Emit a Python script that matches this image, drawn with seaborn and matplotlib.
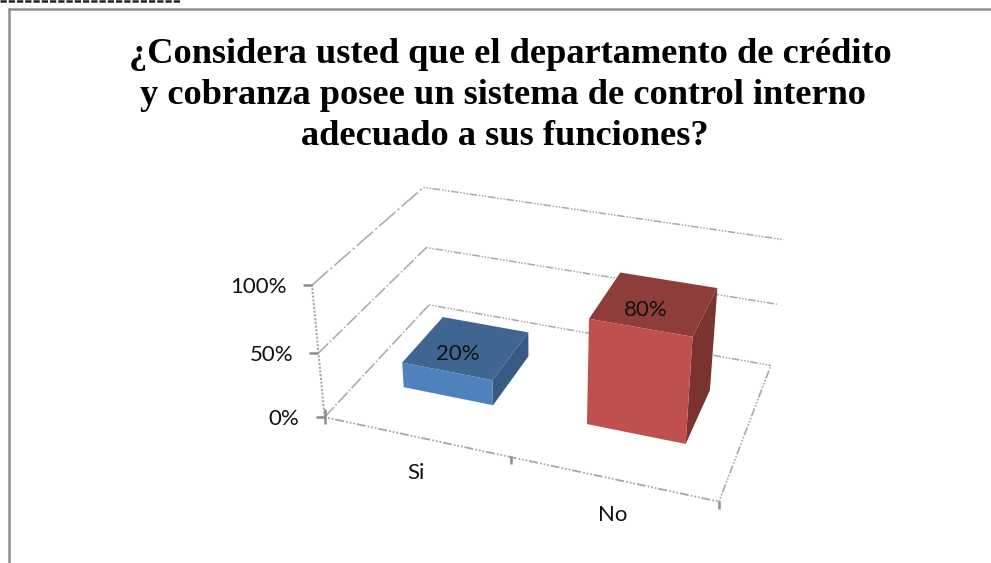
# -*- coding: utf-8 -*-
import numpy as np
import matplotlib
matplotlib.use("Agg")
import matplotlib.pyplot as plt
from matplotlib.patches import Polygon
from matplotlib.transforms import Transform
import seaborn as sns

# data
categories = ["Si", "No"]
values = [20, 80]
value_labels = ["20%", "80%"]
y_ticks = [0, 50, 100]
y_tick_labels = ["0%", "50%", "100%"]
title_lines = ["¿Considera usted que el departamento de crédito",
               "y cobranza posee un sistema de control interno",
               "adecuado a sus funciones?"]
front_colors = ["#4F81BD", "#C0504D"]
top_colors = ["#3F6591", "#8F3D3A"]
side_colors = ["#375A83", "#7A3331"]

GRAY = "#a8a8a8"
BAR_WIDTH = 0.5
D0, D1 = 0.31, 0.72

# 3D box of the chart: (category pos, percent, depth) -> picture pixel
box_world = np.array([[-0.5, 0, 0], [1.5, 0, 0], [1.5, 0, 1], [-0.5, 0, 1],
                      [-0.5, 50, 0], [-0.5, 50, 1], [1.5, 50, 1],
                      [-0.5, 100, 0], [-0.5, 100, 1], [1.5, 100, 1]], float)
box_pixel = np.array([[325, 417], [719, 502], [771, 365], [428, 306],
                      [319, 352], [427, 247], [777, 304],
                      [311, 286], [424, 187], [783, 240]], float)

A, b = [], []
for (x, y, d), (u, v) in zip(box_world, box_pixel):
    A.append([x, y, d, 1, 0, 0, 0, 0, -u * x, -u * y, -u * d])
    b.append(u)
    A.append([0, 0, 0, 0, x, y, d, 1, -v * x, -v * y, -v * d])
    b.append(v)
sol = np.linalg.lstsq(np.array(A), np.array(b), rcond=None)[0]
P = np.append(sol, 1).reshape(3, 4)


def project(x, y, d):
    q = P @ np.array([x, y, d, 1.0])
    return q[0] / q[2], q[1] / q[2]


class PlaneAtDepth(Transform):
    # seaborn's bars (category, percent) are put on the plane at depth d
    input_dims = 2
    output_dims = 2
    is_affine = False

    def __init__(self, d):
        super().__init__()
        self.d = d

    def transform_non_affine(self, values):
        return np.array([project(x, y, self.d) for x, y in values])


sns.set_theme(style="white")
plt.rcParams["font.family"] = ["Lato", "DejaVu Sans"]

fig = plt.figure(figsize=(9.91, 5.63), dpi=100, facecolor="white")
back = fig.add_axes([0, 0, 1, 1], zorder=1)
back.set_xlim(0, 991)
back.set_ylim(563, 0)
back.axis("off")


def line(pts, style, lw=1.1):
    xs, ys = zip(*[project(*p) for p in pts])
    back.plot(xs, ys, color=GRAY, lw=lw, ls=style, solid_capstyle="butt")


dots = (0, (1, 1, 1, 1, 1, 1, 5, 1.2))
long_dash = (0, (14, 2, 1.5, 2))

# walls and floor
for t in y_ticks:
    line([(-0.5, t, 0), (-0.5, t, 1)], long_dash if t == 100 else (0, (9, 1.5, 1, 1.5)))
    line([(-0.5, t, 1), (1.5, t, 1)], dots)
line([(-0.5, 0, 0), (-0.5, 100, 0)], (0, (1, 0.8)), 1.5)
line([(-0.5, 0, 0), (1.5, 0, 0)], dots, 1.3)
line([(1.5, 0, 0), (1.5, 0, 1)], dots, 1.2)

# tick marks and labels
for t, lab in zip(y_ticks, y_tick_labels):
    u, v = project(-0.5, t, 0)
    back.plot([u - 9, u], [v, v], color="#8c8c8c", lw=1.8, solid_capstyle="butt")
    back.text(u - 25, v + 2, lab, ha="right", va="center", fontsize=16, color="#111111")
u, v = project(-0.5, 0, 0)
back.plot([u, u], [v - 8, v + 7], color="#8c8c8c", lw=1.8, solid_capstyle="butt")
for x in [0.5, 1.5]:
    u, v = project(x, 0, 0)
    back.plot([u, u], [v - 1, v + 7], color="#8c8c8c", lw=1.8, solid_capstyle="butt")

# front faces come from seaborn, on the top axes
ax = fig.add_axes([0, 0, 1, 1], zorder=2)
ax.patch.set_alpha(0)
sns.barplot(x=categories, y=values, hue=categories, palette=front_colors,
            saturation=1, width=BAR_WIDTH, legend=False, ax=ax)
ax.axis("off")

for i, (bar, val) in enumerate(zip(ax.patches, values)):
    x0 = bar.get_x()
    x1 = x0 + bar.get_width()
    bar.set_transform(PlaneAtDepth(D0) + back.transData)
    bar.set_clip_on(False)
    bar.set_edgecolor("none")
    side = [project(x1, 0, D0), project(x1, val, D0), project(x1, val, D1), project(x1, 0, D1)]
    top = [project(x0, val, D0), project(x1, val, D0), project(x1, val, D1), project(x0, val, D1)]
    back.add_patch(Polygon(side, closed=True, fc=side_colors[i], ec="none", zorder=3))
    back.add_patch(Polygon(top, closed=True, fc=top_colors[i], ec="none", zorder=3))
    u, v = project(i, val, (D0 + D1) / 2)
    back.text(u - 9, v + 7, value_labels[i], ha="center", va="center", fontsize=16,
              color="#111111", zorder=4)

# category labels
for i, cat in enumerate(categories):
    u, v = project(i, 0, 0)
    back.text(u, v + 36, cat, ha="center", va="center", fontsize=16, color="#111111")

# title, the three lines are not centred the same
for txt, cx, by in zip(title_lines, [510, 503, 505], [63, 104, 145]):
    back.text(cx, by, txt, ha="center", va="baseline", fontsize=26.2,
              fontweight="bold", family=["Liberation Serif"], color="black")

# frame of the pasted chart and the cut text above it
back.plot([8, 991], [8.5, 8.5], color="#8f8f8f", lw=1.8, solid_capstyle="butt")
back.plot([8.5, 8.5], [8, 563], color="#8f8f8f", lw=1.8, solid_capstyle="butt")
back.plot([0, 180], [1, 1], color="#222222", lw=1.8, ls=(0, (2.5, 0.8)))

fig.savefig("out.png", dpi=100)
